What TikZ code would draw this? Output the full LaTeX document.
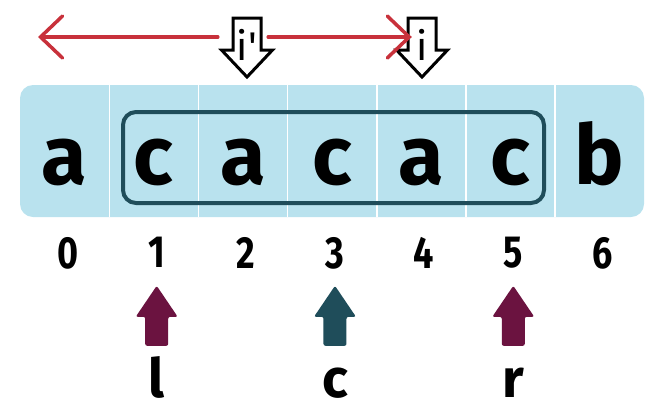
\documentclass[tikz,border=0pt]{standalone}
\usepackage{fontspec}
\newfontfamily\dinfont{Fira Sans}
\newfontfamily\numfont{Fira Sans}[FakeStretch=0.8]
\usetikzlibrary{calc,arrows.meta,positioning}

\definecolor{cellblue}{HTML}{B9E2EE}
\definecolor{frameteal}{HTML}{1F4D5A}
\definecolor{ptrmaroon}{HTML}{6B1340}
\definecolor{scanred}{HTML}{C8313B}

\begin{document}
\begin{tikzpicture}[
    x=1pt, y=-1pt,
    cell/.style={inner sep=0pt,
        minimum width=89.14pt,
        minimum height=132pt,
        text height=66pt, text depth=0pt,
        font=\dinfont\bfseries\fontsize{83}{83}\selectfont},
    idx/.style={inner sep=0pt,
        font=\numfont\bfseries\fontsize{45}{45}\selectfont},
    ptr/.style={inner sep=0pt,
        text height=40pt, text depth=0pt,
        font=\dinfont\bfseries\fontsize{54}{54}\selectfont},
    ilabel/.style={inner sep=0pt, minimum width=28pt,
        text height=30pt, text depth=0pt,
        font=\dinfont\fontsize{40}{40}\selectfont},
    hollow/.style={draw=black, line width=3pt, fill=white, line join=miter},
    window/.style={draw=frameteal, line width=4pt, rounded corners=13pt},
    scan/.style={draw=scanred, line width=3.5pt, line cap=round,
        arrows={-}, >={Straight Barb[length=22pt,width=42pt,line cap=round]}},
    ]
    \useasboundingbox (0,0) rectangle (664,408);

    % the string
    \fill[cellblue, rounded corners=13pt] (20,85) rectangle (644,217);
    \foreach \ch [count=\k from 0] in {a,c,a,c,a,c,b}
        \node[cell] (c\k) at (20+89.14*\k+44.57,151) {\ch};
    \foreach \k in {0,...,5}
        \draw[white, line width=1.5pt] (c\k.north east) -- (c\k.south east);
    \draw[window] (123,112) rectangle (544,203);

    % indices
    \foreach \k in {0,...,6}
        \node[idx, below=20pt of c\k, xshift=3pt] (n\k) {\k};

    % l, c, r pointers
    \foreach \name/\k/\col in {l/1/ptrmaroon, c/3/frameteal, r/5/ptrmaroon} {
        \node[ptr, anchor=base, xshift=3pt] (\name) at (c\k |- 0,397) {\name};
        \begin{scope}[shift={(\name.north)}]
            \fill[\col, rounded corners=2pt] (-11.5,-11) -- (-11.5,-40) -- (-21,-40)
                -- (0,-71) -- (21,-40) -- (11.5,-40) -- (11.5,-11) -- cycle;
        \end{scope}
    }

    % i' and i
    \foreach \name/\x/\txt in {iprev/247/{i\textquotesingle}, icur/422/i} {
        \begin{scope}[shift={(\x,60)}]
            \draw[hollow] (-14,-42) -- (-14,-10) -- (-25.5,-10) -- (0,17)
                -- (25.5,-10) -- (14,-10) -- (14,-42) -- cycle;
        \end{scope}
        \node[ilabel, anchor=base] (\name) at (\x,60) {\txt};
    }

    \coordinate (scanL) at (38,37);
    \draw[scan, <-, shorten >=15pt] (scanL) -- (scanL -| iprev.west);
    \draw[scan, ->, shorten <=7pt, shorten >=-4pt] (scanL -| iprev.east) -- (scanL -| icur.west);
\end{tikzpicture}
\end{document}
